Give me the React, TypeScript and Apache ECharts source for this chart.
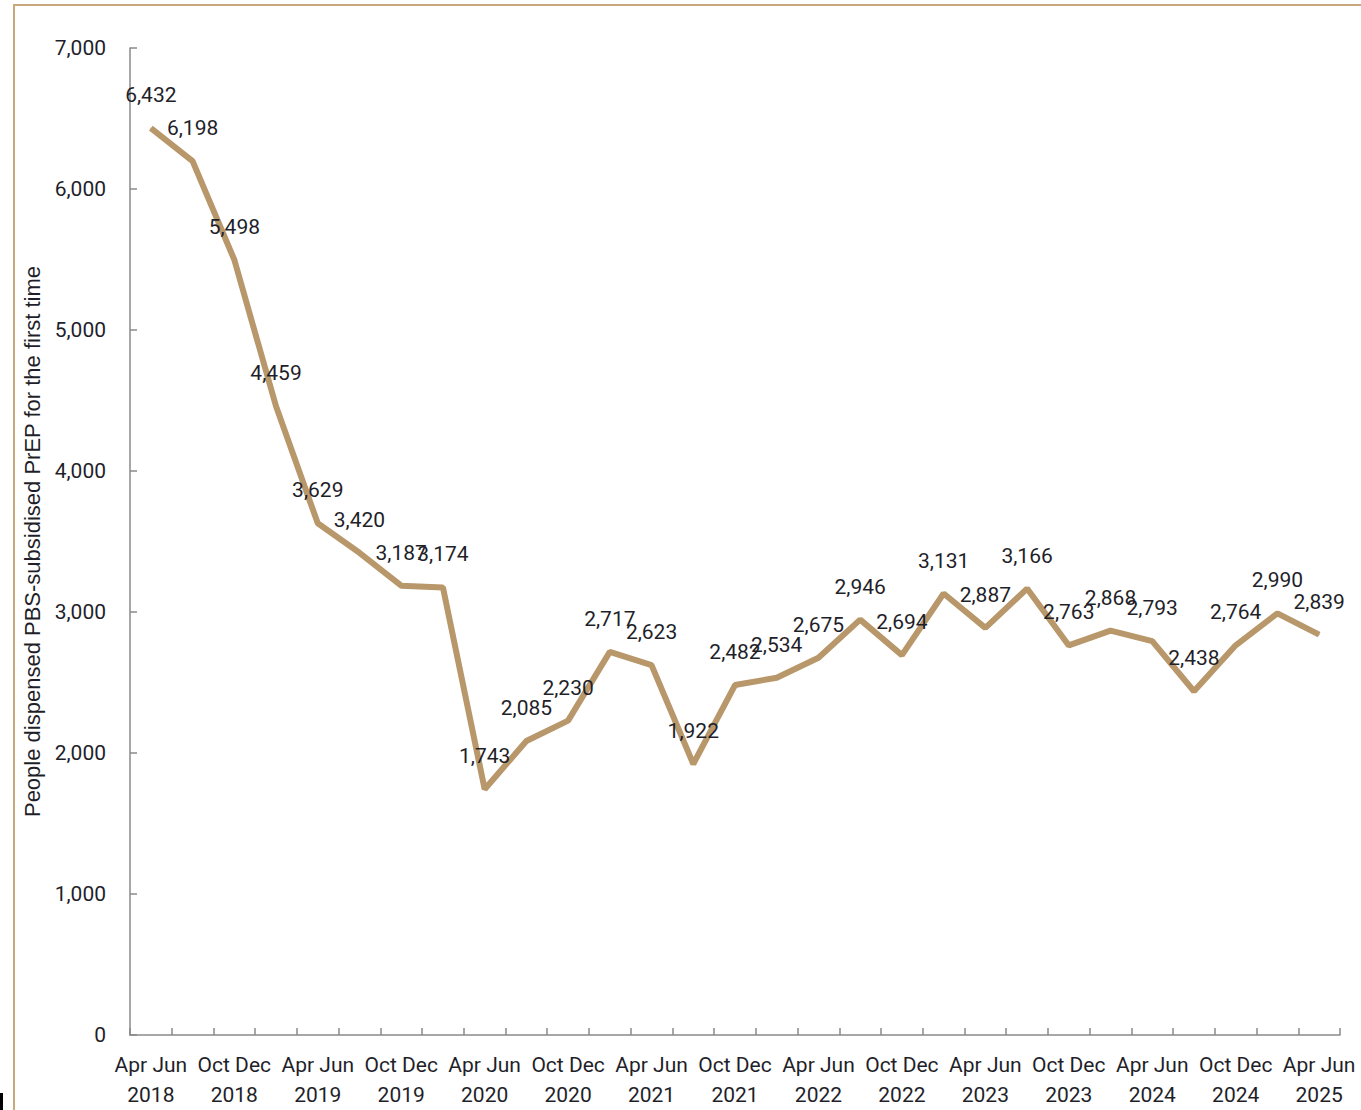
import React, { useEffect, useRef } from "react";
import * as echarts from "echarts";

const quarters = ["Apr Jun", "Jul Sep", "Oct Dec", "Jan Mar"];
const startYears = [
  2018, 2018, 2018, 2019, 2019, 2019, 2019, 2020, 2020, 2020, 2020, 2021, 2021, 2021, 2021,
  2022, 2022, 2022, 2022, 2023, 2023, 2023, 2023, 2024, 2024, 2024, 2024, 2025, 2025,
];
const categories = startYears.map((y, i) => `${quarters[i % 4]}\n${y}`);

const values = [
  6432, 6198, 5498, 4459, 3629, 3420, 3187, 3174, 1743, 2085, 2230, 2717, 2623, 1922, 2482,
  2534, 2675, 2946, 2694, 3131, 2887, 3166, 2763, 2868, 2793, 2438, 2764, 2990, 2839,
];

const yTitle = "People dispensed PBS-subsidised PrEP for the first time";

const fmt = (v: number) => v.toLocaleString("en-US");

export default function App() {
  const ref = useRef<HTMLDivElement>(null);
  useEffect(() => {
    if (!ref.current) return;
    const chart = echarts.init(ref.current, undefined, { renderer: "svg" });
    const textColor = "#1f1f2a";
    const axisColor = "#8a8a8a";
    chart.setOption({
      animation: false,
      backgroundColor: "#ffffff",
      textStyle: { fontFamily: "Roboto" },
      grid: { left: 130, top: 48, right: 21, bottom: 75, containLabel: false },
      graphic: [
        {
          type: "rect",
          shape: { x: 14, y: 5, width: 1400, height: 1200 },
          style: { fill: "none", stroke: "#C9A97C", lineWidth: 2 },
          silent: true,
        },
        {
          type: "rect",
          shape: { x: 0, y: 1093, width: 3, height: 17 },
          style: { fill: "#000" },
          silent: true,
        },
      ],
      xAxis: {
        type: "category",
        data: categories,
        boundaryGap: true,
        axisLine: { show: true, lineStyle: { color: axisColor, width: 1.5 } },
        axisTick: { show: true, inside: true, length: 7, interval: 0, lineStyle: { color: axisColor, width: 1.5 } },
        axisLabel: {
          interval: 1,
          fontSize: 21,
          lineHeight: 30,
          margin: 15,
          color: textColor,
          fontFamily: "Roboto",
        },
        splitLine: { show: false },
      },
      yAxis: {
        type: "value",
        min: 0,
        max: 7000,
        interval: 1000,
        name: yTitle,
        nameLocation: "middle",
        nameGap: 87,
        nameRotate: 90,
        nameTextStyle: { fontSize: 22, color: textColor, fontFamily: "Liberation Sans" },
        axisLine: { show: true, lineStyle: { color: axisColor, width: 1.5 } },
        axisTick: { show: true, inside: true, length: 7, lineStyle: { color: axisColor, width: 1.5 } },
        axisLabel: {
          fontSize: 21,
          margin: 24,
          color: textColor,
          fontFamily: "Roboto",
          formatter: (v: number) => fmt(v),
        },
        splitLine: { show: false },
      },
      series: [
        {
          type: "line",
          data: values,
          symbol: "circle",
          symbolSize: 1,
          showSymbol: true,
          itemStyle: { color: "#B8976A" },
          lineStyle: { color: "#B8976A", width: 6 },
          label: {
            show: true,
            position: "top",
            distance: 22,
            fontSize: 21,
            color: textColor,
            fontFamily: "Roboto",
            formatter: (p: any) => fmt(p.value),
          },
        },
      ],
    });
    return () => chart.dispose();
  }, []);
  return (
    <div
      ref={ref}
      style={{ position: "fixed", left: 0, top: 0, width: 1361, height: 1110, background: "#fff" }}
    />
  );
}
